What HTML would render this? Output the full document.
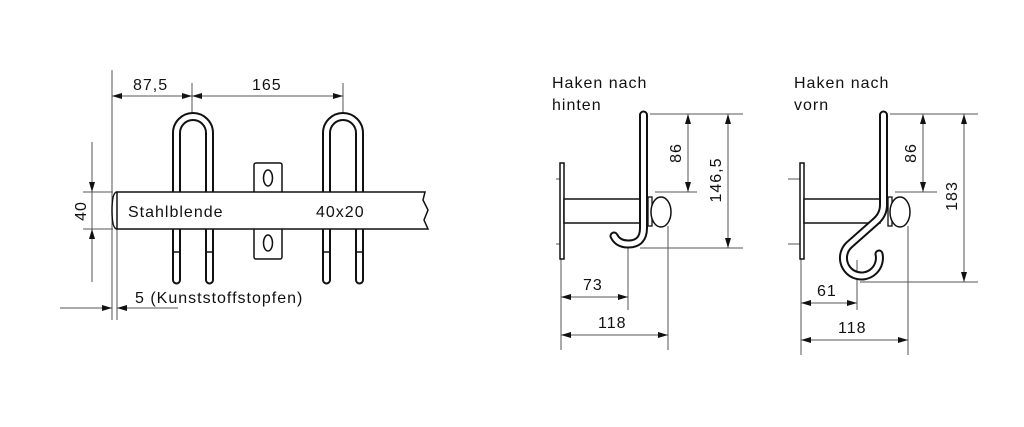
<!DOCTYPE html>
<html><head><meta charset="utf-8"><style>
html,body{margin:0;padding:0;background:#fff;width:1024px;height:427px;overflow:hidden}
svg{display:block}
text{font-family:"Liberation Sans",sans-serif;fill:#111;letter-spacing:1px}
</style></head><body>
<svg width="1024" height="427" viewBox="0 0 1024 427">
<defs>
<marker id="a" viewBox="0 0 10 6" refX="10" refY="3" markerWidth="10" markerHeight="6" markerUnits="userSpaceOnUse" orient="auto-start-reverse"><path d="M0,0 L10,3 L0,6 Z" fill="#111"/></marker>
</defs>
<g stroke="#555" stroke-width="1" fill="none">
<line x1="112" y1="70" x2="112" y2="320"/>
<line x1="117" y1="229" x2="117" y2="320"/>
<line x1="192" y1="83" x2="192" y2="113"/>
<line x1="343" y1="83" x2="343" y2="113"/>
<line x1="112" y1="96" x2="192" y2="96" marker-start="url(#a)" marker-end="url(#a)"/>
<line x1="192" y1="96" x2="343" y2="96" marker-start="url(#a)" marker-end="url(#a)"/>
<line x1="83" y1="192" x2="113" y2="192"/>
<line x1="83" y1="229" x2="113" y2="229"/>
<line x1="92" y1="142" x2="92" y2="192" marker-end="url(#a)"/>
<line x1="92" y1="282" x2="92" y2="229" marker-end="url(#a)"/>
<line x1="92" y1="192" x2="92" y2="229"/>
<line x1="60" y1="308" x2="112" y2="308" marker-end="url(#a)"/>
<line x1="178" y1="308" x2="117" y2="308" marker-end="url(#a)"/>
<line x1="650" y1="114" x2="743" y2="114"/>
<line x1="655" y1="192" x2="697" y2="192"/>
<line x1="640" y1="248" x2="743" y2="248"/>
<line x1="688" y1="114" x2="688" y2="192" marker-start="url(#a)" marker-end="url(#a)"/>
<line x1="728" y1="114" x2="728" y2="248" marker-start="url(#a)" marker-end="url(#a)"/>
<line x1="561" y1="259" x2="561" y2="350"/>
<line x1="628" y1="248" x2="628" y2="310"/>
<line x1="668" y1="226" x2="668" y2="350"/>
<line x1="561" y1="297" x2="628" y2="297" marker-start="url(#a)" marker-end="url(#a)"/>
<line x1="561" y1="335" x2="668" y2="335" marker-start="url(#a)" marker-end="url(#a)"/>
<line x1="556" y1="179" x2="564" y2="179"/>
<line x1="556" y1="244" x2="564" y2="244"/>
<line x1="890" y1="114" x2="978" y2="114"/>
<line x1="895" y1="192" x2="937" y2="192"/>
<line x1="860" y1="282" x2="978" y2="282"/>
<line x1="923" y1="114" x2="923" y2="192" marker-start="url(#a)" marker-end="url(#a)"/>
<line x1="964" y1="114" x2="964" y2="282" marker-start="url(#a)" marker-end="url(#a)"/>
<line x1="801" y1="259" x2="801" y2="355"/>
<line x1="857" y1="260" x2="857" y2="310"/>
<line x1="908" y1="226" x2="908" y2="355"/>
<line x1="801" y1="303" x2="857" y2="303" marker-start="url(#a)" marker-end="url(#a)"/>
<line x1="801" y1="340" x2="908" y2="340" marker-start="url(#a)" marker-end="url(#a)"/>
<line x1="788" y1="179" x2="800" y2="179"/>
<line x1="788" y1="244" x2="800" y2="244"/>
</g>
<g fill="none" stroke-linecap="round">
<path d="M176.5,280 V133 A16.5,16.5 0 0 1 209.5,133 V280" stroke="#111" stroke-width="9"/>
<path d="M176.5,280 V133 A16.5,16.5 0 0 1 209.5,133 V280" stroke="#fff" stroke-width="5"/>
<path d="M326.5,280 V133 A16.5,16.5 0 0 1 359.5,133 V280" stroke="#111" stroke-width="9"/>
<path d="M326.5,280 V133 A16.5,16.5 0 0 1 359.5,133 V280" stroke="#fff" stroke-width="5"/>
</g>
<g stroke="#111" stroke-width="1.5">
<line x1="173" y1="252" x2="180" y2="252"/><line x1="206" y1="252" x2="213" y2="252"/>
<line x1="323" y1="252" x2="330" y2="252"/><line x1="356" y1="252" x2="363" y2="252"/>
</g>
<rect x="254" y="163" width="28" height="96" rx="2" fill="#fff" stroke="#111" stroke-width="1.5"/>
<ellipse cx="268" cy="178" rx="4.5" ry="8" fill="none" stroke="#111" stroke-width="1.5"/>
<ellipse cx="268" cy="243" rx="4.5" ry="8" fill="none" stroke="#111" stroke-width="1.5"/>
<path d="M117,192 H425 L423,200 L428,210 L424,220 L428,229 H117 Z" fill="#fff" stroke="#111" stroke-width="1.5"/>
<path d="M117,192 Q112,192 112,210.5 Q112,229 117,229" fill="none" stroke="#111" stroke-width="1.5"/>
<rect x="560" y="163" width="4" height="96" fill="#fff" stroke="#111" stroke-width="1.5"/>
<rect x="564" y="199" width="76" height="24" fill="#fff" stroke="#111" stroke-width="1.5"/>
<g fill="none" stroke-linecap="round">
<path d="M643.5,115 V228 Q643.5,244 628,244 Q618,244 614,236" stroke="#111" stroke-width="9"/>
<path d="M643.5,115 V228 Q643.5,244 628,244 Q618,244 614,236" stroke="#fff" stroke-width="5"/>
</g>
<rect x="648" y="197" width="4" height="29" fill="#fff" stroke="#111" stroke-width="1.3"/>
<ellipse cx="661" cy="212" rx="10" ry="15" fill="#fff" stroke="#111" stroke-width="1.5"/>
<rect x="800" y="163" width="4" height="96" fill="#fff" stroke="#111" stroke-width="1.5"/>
<rect x="804" y="199" width="76" height="24" fill="#fff" stroke="#111" stroke-width="1.5"/>
<g fill="none" stroke-linecap="round">
<path d="M883.5,115 V205 Q883.5,215 875,222 L849,245 A18,18 0 1 0 879,254" stroke="#111" stroke-width="9"/>
<path d="M883.5,115 V205 Q883.5,215 875,222 L849,245 A18,18 0 1 0 879,254" stroke="#fff" stroke-width="5"/>
</g>
<rect x="888" y="197" width="4" height="29" fill="#fff" stroke="#111" stroke-width="1.3"/>
<ellipse cx="900" cy="212" rx="10" ry="15" fill="#fff" stroke="#111" stroke-width="1.5"/>
<g font-size="16">
<text x="133" y="90">87,5</text>
<text x="252" y="90">165</text>
<text x="128" y="217">Stahlblende</text>
<text x="316" y="217">40x20</text>
<text x="135" y="303">5 (Kunststoffstopfen)</text>
<text transform="translate(86,211) rotate(-90)" text-anchor="middle">40</text>
<text x="552" y="88">Haken nach</text>
<text x="552" y="110">hinten</text>
<text x="583" y="290">73</text>
<text x="598" y="328">118</text>
<text transform="translate(681,153) rotate(-90)" text-anchor="middle">86</text>
<text transform="translate(721,180) rotate(-90)" text-anchor="middle">146,5</text>
<text x="794" y="88">Haken nach</text>
<text x="794" y="110">vorn</text>
<text x="817" y="296">61</text>
<text x="838" y="333">118</text>
<text transform="translate(916,153) rotate(-90)" text-anchor="middle">86</text>
<text transform="translate(957,196) rotate(-90)" text-anchor="middle">183</text>
</g>
</svg>
</body></html>
